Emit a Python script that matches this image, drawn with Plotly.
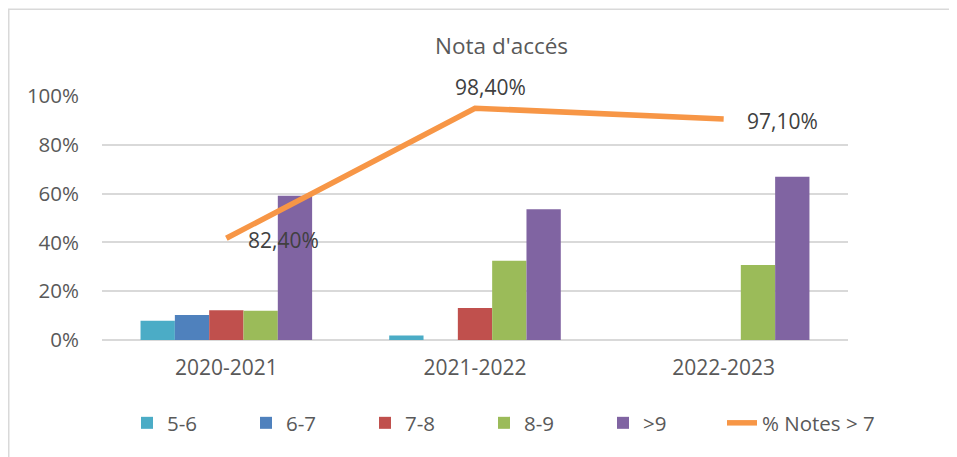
import plotly.graph_objects as go

categories = ["2020-2021", "2021-2022", "2022-2023"]
series_names = ["5-6", "6-7", "7-8", "8-9", ">9"]
series_values = {
    "5-6": [0.079, 0.018, 0.0],
    "6-7": [0.102, 0.0, 0.0],
    "7-8": [0.122, 0.131, 0.0],
    "8-9": [0.120, 0.325, 0.307],
    ">9": [0.591, 0.536, 0.669],
}
series_colors = {
    "5-6": "#4BACC6",
    "6-7": "#4F81BD",
    "7-8": "#C0504D",
    "8-9": "#9BBB59",
    ">9": "#8064A2",
}
line_name = "% Notes > 7"
line_values = [0.417, 0.950, 0.906]
line_labels = ["82,40%", "98,40%", "97,10%"]
y_ticks = [0, 0.2, 0.4, 0.6, 0.8, 1.0]
y_tick_labels = ["0%", "20%", "40%", "60%", "80%", "100%"]

FONT = "Open Sans, Carlito, Calibri, sans-serif"

# page offset of 8px (default body margin) accounted for in the pixel numbers below
W, H = 949, 449
L, R, T, B = 94, 840, 88, 332
pw, ph = R - L, B - T
def px(x):
    return (x - L) / pw
def py(y):
    return (B - y) / ph

fig = go.Figure()
for name in series_names:
    fig.add_trace(go.Bar(
        x=categories, y=series_values[name], name=name,
        marker=dict(color=series_colors[name], line=dict(width=0)),
        legend="legend",
    ))
fig.add_trace(go.Scatter(
    x=categories, y=line_values, name=line_name, mode="lines",
    line=dict(color="#F79646", width=5.5),
    legend="legend2",
))

label_pos = [
    dict(xanchor="left", yanchor="middle", xshift=20, yshift=-2),
    dict(xanchor="center", yanchor="bottom", xshift=15, yshift=5),
    dict(xanchor="left", yanchor="middle", xshift=21, yshift=-2),
]
for cat, v, t, p in zip(categories, line_values, line_labels, label_pos):
    fig.add_annotation(x=cat, y=v, text=t, showarrow=False,
                       font=dict(family=FONT, size=21, color="#404040"), **p)

fig.add_shape(type="rect", xref="paper", yref="paper",
              x0=px(0.75), x1=px(1100), y0=py(600), y1=py(1.25),
              line=dict(color="#D9D9D9", width=1.5), fillcolor="rgba(0,0,0,0)",
              layer="below")

legend_font = dict(family=FONT, size=20.5, color="#595959")
fig.update_layout(
    width=W, height=H,
    margin=dict(l=L, r=W - R, t=T, b=H - B, pad=0),
    paper_bgcolor="white", plot_bgcolor="white",
    title=dict(text="Nota d'accés", x=px(482), xanchor="center",
               y=1 - 38 / H, yanchor="middle",
               font=dict(family=FONT, size=22.5, color="#595959")),
    barmode="group", bargap=0.31, bargroupgap=0,
    font=dict(family=FONT, size=21, color="#595959"),
    showlegend=True,
    legend=dict(orientation="h", x=px(119), xanchor="left",
                y=py(415), yanchor="middle",
                entrywidth=74, entrywidthmode="pixels",
                font=legend_font, traceorder="normal"),
    legend2=dict(orientation="h", x=px(714), xanchor="left",
                 y=py(415), yanchor="middle", font=legend_font),
    xaxis=dict(showgrid=False, showline=False, ticks="", ticklabelstandoff=13,
               tickfont=dict(family=FONT, size=21, color="#595959")),
    yaxis=dict(range=[0, 1], tickvals=y_ticks, ticktext=y_tick_labels,
               showgrid=True, gridcolor="#D9D9D9", gridwidth=1.5,
               zeroline=True, zerolinecolor="#D9D9D9", zerolinewidth=1.5,
               showline=False, ticks="", ticklabelstandoff=22,
               tickfont=dict(family=FONT, size=20.5, color="#595959")),
)

fig.write_html("out.html")
